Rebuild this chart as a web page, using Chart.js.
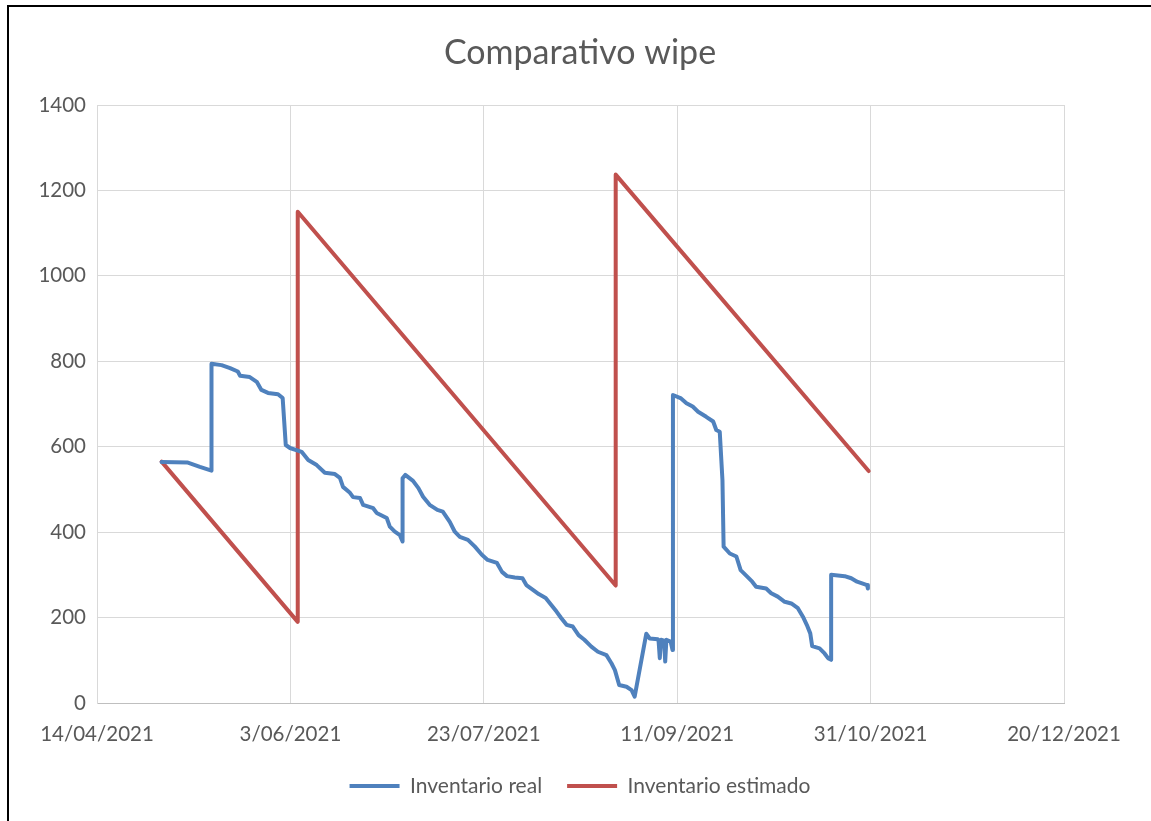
<!DOCTYPE html>
<html>
<head>
<meta charset="utf-8">
<script src="https://cdn.jsdelivr.net/npm/chart.js@4.4.1/dist/chart.umd.min.js"></script>
<style>
  html, body { margin: 0; padding: 0; background: #fff; }
  #wrap { position: relative; width: 1151px; height: 821px; }
  #frame { position: absolute; left: 7px; top: 5px; right: 0; bottom: 0;
           border-left: 2px solid #000; border-top: 2px solid #000; pointer-events: none; }
  canvas { position: absolute; left: 0; top: 0; }
</style>
</head>
<body>
<div id="wrap">
  <canvas id="chart" width="1151" height="821"></canvas>
  <div id="frame"></div>
</div>
<script>
// dias contados desde 14/04/2021
const tickLabels = ['14/04/2021', '3/06/2021', '23/07/2021', '11/09/2021', '31/10/2021', '20/12/2021'];

// Inventario real
const realDays = [
  16.7, 23.5, 26.6, 29.6, 29.6, 32.2, 34.4, 36.4, 37.0, 39.5, 41.3, 42.5, 44.2, 46.8, 48.0, 48.8,
  49.9, 52.9, 54.6, 56.8, 58.9, 61.5, 62.8, 63.6, 65.4, 66.2, 68.0, 68.8, 71.4, 72.3, 74.9, 75.7,
  77.0, 78.3, 79.0, 79.0, 79.7, 81.7, 83.1, 84.3, 86.0, 88.0, 89.4, 91.2, 92.5, 93.8, 95.9, 97.7,
  99.5, 101.0, 103.4, 104.7, 106.0, 108.0, 110.0, 111.0, 112.7, 114.2, 116.0, 117.5, 118.8, 120.0,
  121.4, 123.0, 124.5, 126.0, 127.8, 129.5, 131.7, 133.0, 133.9, 135.0, 136.9, 138.2, 139.0, 142.0,
  142.9, 145.0, 145.2, 145.5, 145.8, 146.6, 146.9, 147.2, 148.3, 148.8, 148.9, 151.0, 152.4, 154.0,
  155.4, 157.5, 159.3, 160.1, 161.0, 161.7, 162.0, 163.6, 165.3, 166.4, 168.1, 169.4, 170.4, 173.0,
  174.3, 176.0, 177.8, 179.5, 181.2, 182.5, 183.5, 184.4, 184.9, 186.8, 188.1, 189.0, 189.8, 189.8,
  193.3, 195.0, 196.5, 199.1, 199.3
];
const realValues = [
  564, 563, 553, 544, 794, 791, 784, 776, 766, 763, 752, 733, 726, 723, 714, 604,
  597, 588, 569, 557, 539, 536, 527, 506, 492, 482, 480, 464, 456, 445, 433, 413,
  401, 393, 378, 526, 534, 520, 503, 483, 464, 452, 448, 424, 401, 389, 382, 366,
  347, 335, 328, 307, 297, 294, 292, 276, 265, 255, 246, 229, 214, 199,
  183, 179, 159, 148, 132, 120, 112, 93, 77, 42, 38, 30, 15, 162,
  151, 149, 144, 105, 148, 146, 97, 148, 144, 124, 721, 713, 702, 694,
  682, 670, 659, 639, 635, 522, 366, 350, 343, 311, 296, 284, 272, 268,
  257, 249, 237, 233, 222, 202, 183, 163, 133, 128, 116, 105, 101, 300,
  297, 292, 284, 276, 268
];

// Inventario estimado
const estDays   = [16.7, 51.9, 51.9, 134.1, 134.1, 199.5];
const estValues = [565, 190, 1150, 275, 1237, 543];

const textColor = '#595959';
const fontFamily = 'Lato, "Open Sans", sans-serif';

const toPoints = (xs, ys) => xs.map((x, i) => ({ x, y: ys[i] }));

new Chart(document.getElementById('chart'), {
  type: 'line',
  data: {
    datasets: [
      {
        label: 'Inventario real',
        data: toPoints(realDays, realValues),
        borderColor: '#4f81bd', backgroundColor: '#4f81bd',
        borderWidth: 4, pointRadius: 0, tension: 0,
        borderJoinStyle: 'round', borderCapStyle: 'round'
      },
      {
        label: 'Inventario estimado',
        data: toPoints(estDays, estValues),
        borderColor: '#c0504d', backgroundColor: '#c0504d',
        borderWidth: 4, pointRadius: 0, tension: 0,
        borderJoinStyle: 'round', borderCapStyle: 'round'
      }
    ]
  },
  options: {
    responsive: false,
    animation: false,
    layout: { padding: { left: 9, right: 0, top: 0, bottom: 14.5 } },
    plugins: {
      title: {
        display: true,
        text: 'Comparativo wipe',
        color: textColor,
        font: { family: fontFamily, size: 34, weight: 'normal' },
        padding: { top: 32.6, bottom: 31.6 }
      },
      legend: {
        position: 'bottom',
        labels: {
          color: textColor,
          font: { family: fontFamily, size: 21 },
          usePointStyle: true,
          pointStyle: 'line',
          pointStyleWidth: 50,
          padding: 25
        }
      },
      tooltip: { enabled: false }
    },
    scales: {
      x: {
        type: 'linear',
        min: 0, max: 250,
        afterFit: s => { s.height = 47.5; },
        ticks: {
          stepSize: 50,
          padding: 19,
          color: textColor,
          font: { family: fontFamily, size: 20.5 },
          maxRotation: 0,
          callback: v => tickLabels[Math.round(v / 50)]
        },
        grid: { color: '#d9d9d9', drawTicks: false },
        border: { color: '#bfbfbf' }
      },
      y: {
        min: 0, max: 1400,
        afterFit: s => { s.width = 88; },
        ticks: {
          stepSize: 200,
          padding: 11,
          color: textColor,
          font: { family: fontFamily, size: 20.5 },
          callback: v => String(v)
        },
        grid: { color: '#d9d9d9', drawTicks: false },
        border: { color: '#d9d9d9' }
      },
      // empty right-hand space, so the plot ends where the original does
      spacer: {
        position: 'right',
        afterFit: s => { s.width = 87; },
        ticks: { display: false },
        grid: { display: false },
        border: { display: false }
      }
    }
  }
});
</script>
</body>
</html>
